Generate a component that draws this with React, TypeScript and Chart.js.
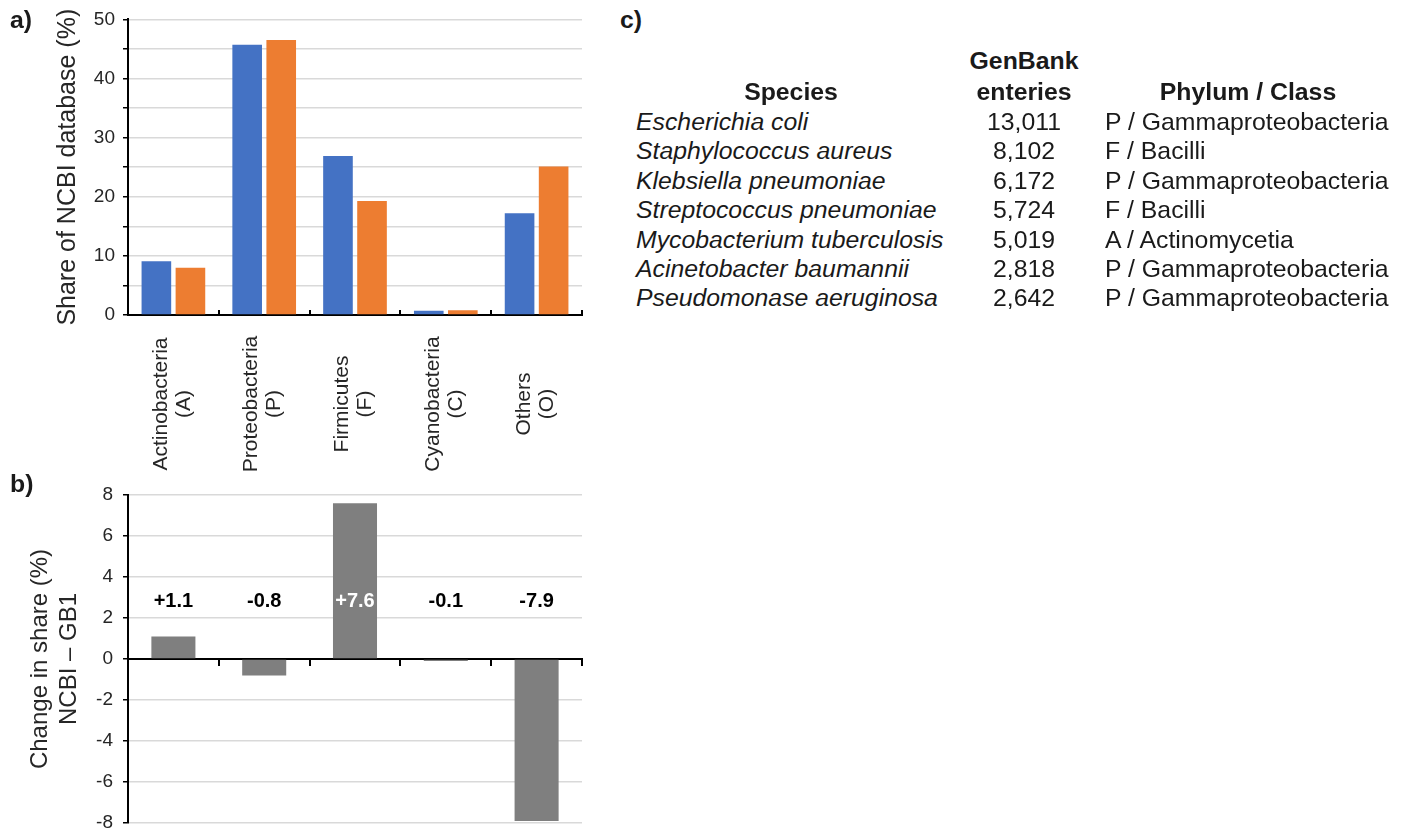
import React, { useEffect, useRef } from 'react';
import { Chart, registerables } from 'chart.js';

Chart.register(...registerables);

// ---------- data ----------
const categories = ['Actinobacteria', 'Proteobacteria', 'Firmicutes', 'Cyanobacteria', 'Others'];
const categoryCodes = ['(A)', '(P)', '(F)', '(C)', '(O)'];
const ncbiShare = [9.1, 45.7, 26.9, 0.7, 17.2];
const gb1Share = [8.0, 46.5, 19.3, 0.8, 25.1];
const changeShare = [1.1, -0.8, 7.6, -0.1, -7.9];
const changeLabels = ['+1.1', '-0.8', '+7.6', '-0.1', '-7.9'];
const shareAxis = { min: 0, max: 50, step: 5, labelEvery: 10 };
const changeAxis = { min: -8, max: 8, step: 2 };
const changeLabelLevel = 2.8;

const species = [
  'Escherichia coli',
  'Staphylococcus aureus',
  'Klebsiella pneumoniae',
  'Streptococcus pneumoniae',
  'Mycobacterium tuberculosis',
  'Acinetobacter baumannii',
  'Pseudomonase aeruginosa',
];
const genbankEntries = ['13,011', '8,102', '6,172', '5,724', '5,019', '2,818', '2,642'];
const phylumClass = [
  'P / Gammaproteobacteria',
  'F / Bacilli',
  'P / Gammaproteobacteria',
  'F / Bacilli',
  'A / Actinomycetia',
  'P / Gammaproteobacteria',
  'P / Gammaproteobacteria',
];

const FONT = "'Liberation Sans', Arial, Helvetica, sans-serif";
const TEXT = '#262626';
const GRID = '#d9d9d9';
const PLOT_RIGHT = 582;

function ChartA() {
  const ref = useRef<HTMLCanvasElement | null>(null);
  useEffect(() => {
    const W = 600, H = 480;
    const labelPlugin = {
      id: 'rotLabels',
      afterDraw(chart: any) {
        const ctx = chart.ctx;
        const xs = chart.scales.x;
        ctx.save();
        ctx.font = `21px ${FONT}`;
        ctx.fillStyle = TEXT;
        ctx.textAlign = 'center';
        ctx.textBaseline = 'middle';
        categories.forEach((c, i) => {
          const cx = xs.getPixelForValue(i);
          ctx.save();
          ctx.translate(cx - 1, 404);
          ctx.rotate(-Math.PI / 2);
          ctx.fillText(c, 0, -11.5);
          ctx.fillText(categoryCodes[i], 0, 11.5);
          ctx.restore();
        });
        ctx.restore();
      },
    };
    const chart = new Chart(ref.current as HTMLCanvasElement, {
      type: 'bar',
      data: {
        labels: categories,
        datasets: [
          { label: 'NCBI', data: ncbiShare, backgroundColor: '#4472C4', categoryPercentage: 0.75, barPercentage: 0.87 },
          { label: 'GB1', data: gb1Share, backgroundColor: '#ED7D31', categoryPercentage: 0.75, barPercentage: 0.87 },
        ],
      },
      options: {
        responsive: false,
        animation: false,
        devicePixelRatio: 1,
        layout: { padding: { top: 18, right: W - PLOT_RIGHT, left: 0, bottom: 0 } },
        plugins: { legend: { display: false }, tooltip: { enabled: false } },
        scales: {
          x: {
            offset: true,
            grid: { display: true, drawOnChartArea: false, drawTicks: true, tickLength: -5, offset: true, color: '#000', lineWidth: 2 },
            border: { display: true, color: '#000', width: 2 },
            ticks: { display: false },
            afterFit: (s: any) => { s.height = H - 315; },
          },
          y: {
            min: shareAxis.min,
            max: shareAxis.max,
            ticks: {
              stepSize: shareAxis.step,
              padding: 8,
              color: TEXT,
              font: { size: 19, family: FONT },
              callback: (v: any) => (Number(v) % shareAxis.labelEvery === 0 ? String(v) : ''),
            },
            grid: {
              color: (c: any) => (c.tick && c.tick.value === 0 ? 'rgba(0,0,0,0)' : GRID),
              lineWidth: 1.5,
              tickLength: 5,
              tickColor: '#000',
              tickWidth: 1.5,
            },
            border: { display: true, color: '#000', width: 2 },
            title: {
              display: true,
              text: 'Share of NCBI database (%)',
              color: TEXT,
              font: { size: 25, family: FONT, lineHeight: 1.2 },
              padding: { top: 53, bottom: 0 },
            },
            afterFit: (s: any) => { s.width = 128; },
          },
        },
      },
      plugins: [labelPlugin],
    } as any);
    return () => chart.destroy();
  }, []);
  return <canvas ref={ref} width={600} height={480} style={{ position: 'absolute', left: 0, top: 0 }} />;
}

function ChartB() {
  const ref = useRef<HTMLCanvasElement | null>(null);
  useEffect(() => {
    const W = 600;
    const valuePlugin = {
      id: 'valueLabels',
      afterDatasetsDraw(chart: any) {
        const ctx = chart.ctx;
        const ys = chart.scales.y;
        const meta = chart.getDatasetMeta(0);
        const y = ys.getPixelForValue(changeLabelLevel);
        ctx.save();
        ctx.font = `bold 20px ${FONT}`;
        ctx.textAlign = 'center';
        ctx.textBaseline = 'middle';
        meta.data.forEach((el: any, i: number) => {
          ctx.fillStyle = changeShare[i] > changeLabelLevel ? '#ffffff' : '#000000';
          ctx.fillText(changeLabels[i], el.x, y);
        });
        ctx.restore();
      },
    };
    const chart = new Chart(ref.current as HTMLCanvasElement, {
      type: 'bar',
      data: {
        labels: categories,
        datasets: [
          { label: 'NCBI – GB1', data: changeShare, backgroundColor: '#7f7f7f', categoryPercentage: 0.485, barPercentage: 1 },
        ],
      },
      options: {
        responsive: false,
        animation: false,
        devicePixelRatio: 1,
        layout: { padding: { top: 25, right: W - PLOT_RIGHT, left: 0, bottom: 27 } },
        plugins: { legend: { display: false }, tooltip: { enabled: false } },
        scales: {
          x: {
            position: { y: 0 },
            offset: true,
            grid: { display: true, drawOnChartArea: false, drawTicks: true, tickLength: 6, offset: true, color: '#000', lineWidth: 2 },
            border: { display: true, color: '#000', width: 2 },
            ticks: { display: false },
          },
          y: {
            min: changeAxis.min,
            max: changeAxis.max,
            ticks: {
              stepSize: changeAxis.step,
              padding: 10,
              color: TEXT,
              font: { size: 19, family: FONT },
            },
            grid: {
              color: (c: any) => (c.tick && c.tick.value === 0 ? 'rgba(0,0,0,0)' : GRID),
              lineWidth: 1.5,
              tickLength: 5,
              tickColor: '#000',
              tickWidth: 1.5,
            },
            border: { display: true, color: '#000', width: 2 },
            title: {
              display: true,
              text: ['Change in share (%)', 'NCBI – GB1'],
              color: TEXT,
              font: { size: 24, family: FONT, lineHeight: 1.2 },
              padding: { top: 26, bottom: 0 },
            },
            afterFit: (s: any) => { s.width = 128; },
          },
        },
      },
      plugins: [valuePlugin],
    } as any);
    return () => chart.destroy();
  }, []);
  return <canvas ref={ref} width={600} height={380} style={{ position: 'absolute', left: 0, top: 470 }} />;
}

function Txt(props: { x: number; y: number; align?: 'left' | 'center'; bold?: boolean; italic?: boolean; size?: number; children: React.ReactNode }) {
  const { x, y, align = 'left', bold, italic, size = 24.8, children } = props;
  const style: React.CSSProperties = {
    position: 'absolute',
    top: y - 15,
    lineHeight: '30px',
    height: 30,
    fontFamily: FONT,
    fontSize: size,
    fontWeight: bold ? 'bold' : 'normal',
    fontStyle: italic ? 'italic' : 'normal',
    color: '#1a1a1a',
    whiteSpace: 'nowrap',
  };
  if (align === 'center') {
    style.left = x - 300;
    style.width = 600;
    style.textAlign = 'center';
  } else {
    style.left = x;
  }
  return <div style={style}>{children}</div>;
}

function TableC() {
  const rowY = (i: number) => 122 + i * 29.4;
  return (
    <>
      <Txt x={620} y={20} bold>c)</Txt>
      <Txt x={1024} y={61} align="center" bold>GenBank</Txt>
      <Txt x={1024} y={92} align="center" bold>enteries</Txt>
      <Txt x={791} y={92} align="center" bold>Species</Txt>
      <Txt x={1248} y={92} align="center" bold>Phylum / Class</Txt>
      {species.map((s, i) => (
        <Txt key={'s' + i} x={636} y={rowY(i)} italic>{s}</Txt>
      ))}
      {genbankEntries.map((s, i) => (
        <Txt key={'g' + i} x={1024} y={rowY(i)} align="center">{s}</Txt>
      ))}
      {phylumClass.map((s, i) => (
        <Txt key={'p' + i} x={1105} y={rowY(i)}>{s}</Txt>
      ))}
    </>
  );
}

export default function App() {
  return (
    <div style={{ position: 'absolute', left: 0, top: 0, width: 1408, height: 832, overflow: 'hidden', background: '#fff' }}>
      <ChartA />
      <ChartB />
      <Txt x={10} y={20} bold>a)</Txt>
      <Txt x={10} y={484} bold>b)</Txt>
      <TableC />
    </div>
  );
}
